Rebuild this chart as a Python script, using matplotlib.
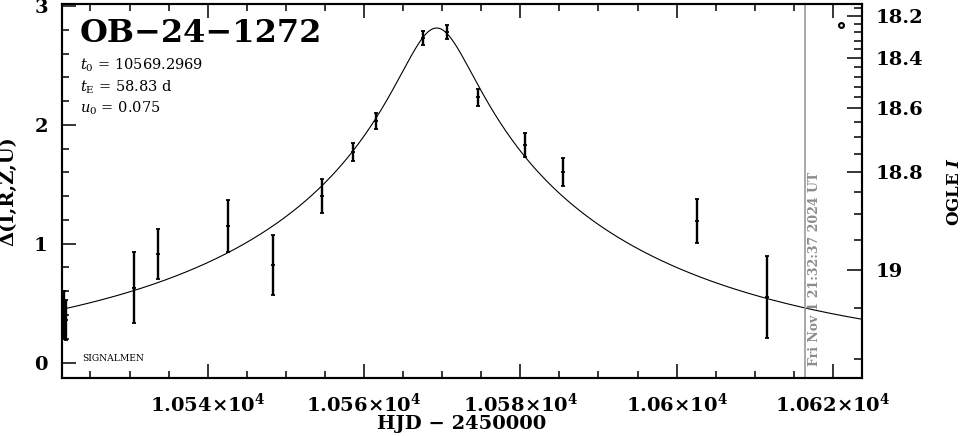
import numpy as np
import matplotlib
matplotlib.use("Agg")
import matplotlib.pyplot as plt
from matplotlib.ticker import MultipleLocator, FuncFormatter, FixedLocator

plt.rcParams['font.family'] = ['DejaVu Serif', 'DejaVu Sans']
plt.rcParams['mathtext.fontset'] = 'dejavuserif'

# event parameters (shown on the plot)
event_name = "OB−24−1272"
t0 = 10569.2969
tE = 58.83
u0 = 0.075

# observed points: HJD-2450000, delta, error
hjd = [10521.6, 10521.9, 10530.6, 10533.7, 10542.6, 10548.4, 10554.6, 10558.6,
       10561.5, 10567.6, 10570.6, 10574.6, 10580.6, 10585.5, 10602.6, 10611.6]
delta = [0.40, 0.36, 0.63, 0.91, 1.15, 0.82, 1.40, 1.77,
         2.03, 2.73, 2.78, 2.23, 1.83, 1.60, 1.19, 0.55]
err = [0.20, 0.17, 0.30, 0.21, 0.22, 0.25, 0.14, 0.074,
       0.067, 0.056, 0.059, 0.07, 0.10, 0.117, 0.185, 0.345]

# extra point drawn as open circle
circ_hjd = [10621.0]
circ_delta = [2.84]

# time the plot was made (Fri Nov 1 21:32:37 2024 UT)
now_hjd = 10616.40
now_text = "Fri Nov 1 21:32:37 2024 UT"

# OGLE I scale: baseline and blending
i_base = 19.103
f_s = 0.095
mag_major = [18.2, 18.4, 18.6, 18.8, 19.0]
mag_labels = ["18.2", "18.4", "18.6", "18.8", "19"]
mag_minor = [18.16, 18.24, 18.28, 18.32, 18.36, 18.44, 18.48, 18.52, 18.56,
             18.65, 18.7, 18.75, 18.85, 18.9, 18.95, 19.05, 19.1]


def mag_to_delta(m):
    m = np.asarray(m)
    return 2.5 * np.log10((10 ** (0.4 * (i_base - m)) - 1 + f_s) / f_s)


def paczynski(t):
    u = np.sqrt(((t - t0) / tE) ** 2 + u0 ** 2)
    a = (u ** 2 + 2) / (u * np.sqrt(u ** 2 + 4))
    return 2.5 * np.log10(a)


fig = plt.figure(figsize=(9.65, 4.36), dpi=100)
ax = fig.add_axes([0.0639, 0.1323, 0.8294, 0.8578])

xmin, xmax = 10521.32, 10623.72
ymin, ymax = -0.133, 3.014

tt = np.linspace(xmin, xmax, 1000)
ax.plot(tt, paczynski(tt), color='k', lw=0.8)

ax.errorbar(hjd, delta, yerr=err, fmt='_', ms=3, mew=1.3, color='k',
            ecolor='k', elinewidth=1.7, capsize=1.3, capthick=1.3)
ax.plot(circ_hjd, circ_delta, 'o', mfc='none', mec='k', ms=3.5, mew=1.5)

ax.axvline(now_hjd, color='#999999', lw=1.2)
ax.text(now_hjd + 0.45, -0.03, now_text, rotation=90, ha='left', va='bottom',
        fontsize=9, fontweight='bold', color='#8c8c8c')

ax.set_xlim(xmin, xmax)
ax.set_ylim(ymin, ymax)

ax.xaxis.set_major_locator(MultipleLocator(20))
ax.xaxis.set_minor_locator(MultipleLocator(5))
ax.xaxis.set_major_formatter(FuncFormatter(
    lambda v, p: r"$\mathbf{%s{\times}10^{4}}$" % f"{v / 1e4:.4g}"))
ax.yaxis.set_major_locator(MultipleLocator(1))
ax.yaxis.set_minor_locator(MultipleLocator(0.2))
ax.yaxis.set_major_formatter(FuncFormatter(lambda v, p: f"{v:g}"))

ax.tick_params(which='both', direction='in', top=True, right=False,
               labelsize=14, pad=10, width=1.1)
ax.tick_params(which='major', length=10)
ax.tick_params(which='minor', length=5)
for lab in ax.get_yticklabels():
    lab.set_fontweight('bold')
for s in ax.spines.values():
    s.set_linewidth(1.5)

ax.set_xlabel("HJD − 2450000", fontsize=14, fontweight='bold', labelpad=0)
ax.set_ylabel("Δ(I,R,Z,U)", fontsize=14, fontweight='bold', labelpad=12)

# right axis with OGLE I magnitudes
ax2 = ax.twinx()
ax2.set_ylim(ymin, ymax)
ax2.yaxis.set_major_locator(FixedLocator(mag_to_delta(mag_major)))
ax2.yaxis.set_minor_locator(FixedLocator(mag_to_delta(mag_minor)))
ax2.set_yticklabels(mag_labels, fontsize=14, fontweight='bold')
ax2.tick_params(which='both', direction='in', left=False, right=True,
                pad=10, width=1.1)
ax2.tick_params(which='major', length=10.5)
ax2.tick_params(which='minor', length=5.5)
for s in ax2.spines.values():
    s.set_linewidth(1.5)
ax2.set_ylabel(r"OGLE $\mathbfit{I}$", fontsize=12, fontweight='bold',
               rotation=90, labelpad=16)

# annotations
ax.text(0.0229, 0.900, event_name, transform=ax.transAxes, fontsize=23,
        fontweight='bold', va='baseline', ha='left')
ax.text(0.0229, 0.8243, r"$t_0$ = 10569.2969", transform=ax.transAxes,
        fontsize=10.5, va='baseline')
ax.text(0.0229, 0.7655, r"$t_{\rm E}$ = 58.83 d", transform=ax.transAxes,
        fontsize=10.5, va='baseline')
ax.text(0.0229, 0.7094, r"$u_0$ = 0.075", transform=ax.transAxes,
        fontsize=10.5, va='baseline')
ax.text(0.0262, 0.047, "SIGNALMEN", transform=ax.transAxes, fontsize=6.6,
        va='baseline')

fig.savefig("out.png", dpi=100)
